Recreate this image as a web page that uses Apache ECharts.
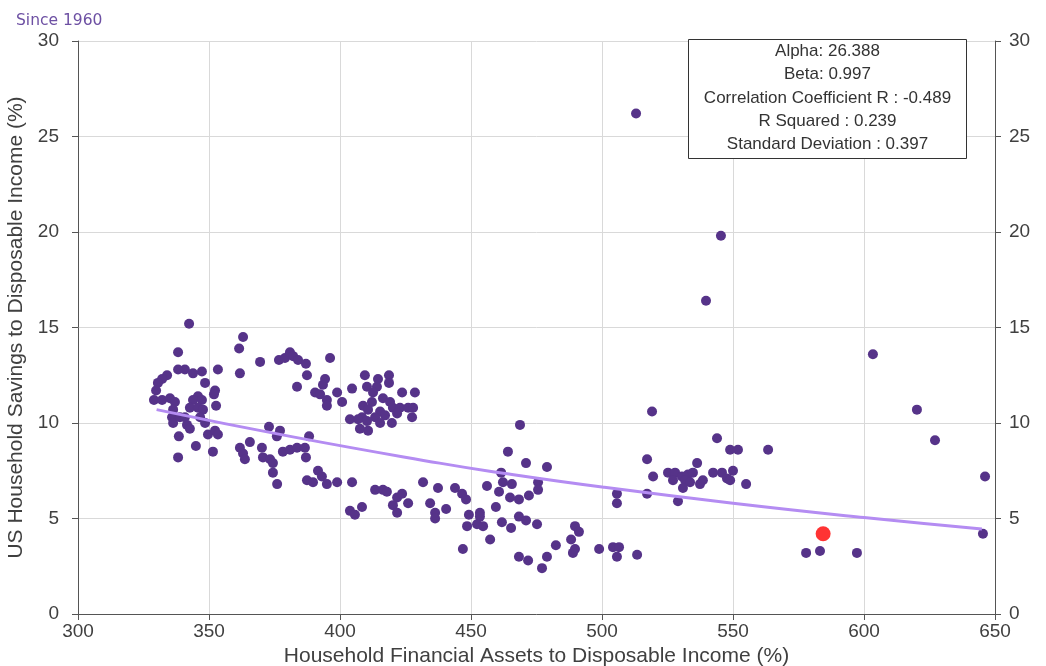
<!DOCTYPE html>
<html>
<head>
<meta charset="utf-8">
<script src="https://cdn.jsdelivr.net/npm/echarts@6/dist/echarts.min.js"></script>
<style>
html,body{margin:0;padding:0;background:#fff;}
#chart{width:1046px;height:666px;}
</style>
</head>
<body>
<div id="chart"></div>
<script>
// Household financial assets to disposable income (%), savings rate (%)
const historyPoints = [
[342.4,15.2],[338.2,13.7],[363.0,14.5],[361.5,13.9],[361.8,12.6],[353.4,12.8],[347.3,12.7],[343.9,12.6],[340.8,12.8],[338.2,12.8],
[334.0,12.5],[332.1,12.3],[330.5,12.1],[329.8,11.7],[329.0,11.2],[332.1,11.2],[335.1,11.3],[337.0,11.1],[336.3,10.7],[335.9,10.3],
[336.3,10.0],[338.9,10.3],[341.6,9.9],[342.7,9.7],[338.5,9.3],[338.2,8.2],[345.0,8.8],[348.5,12.1],[352.3,11.7],[351.9,11.5],
[352.7,10.9],[345.8,11.4],[343.9,11.2],[347.3,11.2],[342.7,10.8],[345.8,10.8],[347.7,10.7],[346.6,10.3],[348.5,10.0],[349.6,9.4],
[352.3,9.6],[353.4,9.4],[351.5,8.5],[340.8,10.3],
[369.5,13.2],[376.7,13.3],[379.0,13.4],[380.9,13.7],[382.1,13.5],[384.0,13.3],[387.0,13.1],[396.2,13.4],[387.4,12.5],[383.6,11.9],
[394.3,12.3],[393.5,12.0],[390.5,11.6],[392.4,11.5],[395.0,11.2],[395.0,10.9],[398.9,11.6],
[372.9,9.8],[377.1,9.6],[375.9,9.3],[388.2,9.3],[361.8,8.7],[363.0,8.4],[363.7,8.1],[365.6,9.0],[370.2,8.7],[370.6,8.2],
[373.3,8.1],[374.4,7.9],[378.2,8.5],[380.9,8.6],[383.6,8.7],[386.6,8.7],[387.0,8.2],[374.4,7.4],[376.0,6.8],[387.4,7.0],
[389.7,6.9],[391.6,7.5],[393.1,7.2],[395.0,6.8],[398.9,6.9],
[400.8,11.1],[404.6,11.8],[409.5,12.5],[414.5,12.3],[418.7,12.5],[418.7,12.1],[410.3,11.9],[414.1,11.9],[412.6,11.6],[423.7,11.6],
[428.6,11.6],[416.4,11.3],[419.1,11.1],[412.2,11.1],[408.8,10.9],[410.7,10.7],[420.2,10.8],[422.9,10.8],[426.0,10.8],[427.9,10.8],
[427.5,10.3],[415.3,10.6],[417.2,10.4],[421.8,10.5],[413.4,10.3],[408.4,10.3],[403.8,10.2],[406.9,10.2],[410.3,10.1],[415.3,10.0],
[419.8,10.0],[407.6,9.7],[410.7,9.6],
[403.8,5.4],[405.7,5.2],[408.4,5.6],[413.4,6.5],[416.4,6.5],[417.9,6.4],[421.8,6.1],[423.7,6.3],[426.0,5.8],[420.2,5.7],
[421.8,5.3],[404.6,6.9],[431.7,6.9],[434.4,5.8],[436.3,5.3],[436.3,5.0],[437.4,6.6],
[443.9,6.6],[446.6,6.3],[448.1,6.0],[440.5,5.5],[449.2,5.2],[453.4,5.3],[453.4,5.1],[448.5,4.6],[452.3,4.7],[454.6,4.6],[446.9,3.4],
[468.7,9.9],[464.1,8.5],[471.0,7.9],[479.0,7.7],[461.5,7.4],[462.2,6.9],[465.6,6.8],[475.6,6.9],[475.6,6.5],[472.1,6.2],
[464.9,6.1],[468.3,6.0],[460.7,6.4],[456.1,6.7],[459.5,5.6],[461.8,4.8],[468.3,5.1],[471.0,4.9],[475.2,4.7],[465.3,4.5],
[457.3,3.9],[468.3,3.0],[471.8,2.8],[477.1,2.4],[479.0,3.0],[482.4,3.6],[488.2,3.9],[489.7,4.6],[491.2,4.3],[488.9,3.2],
[489.7,3.4],[498.9,3.4],[504.2,3.5],[506.5,3.5],[505.7,3.0],[513.4,3.1],[505.7,6.3],[505.7,5.8],
[513.0,26.2],[545.4,19.8],[539.7,16.4],[603.4,13.6],[519.1,10.6],[543.9,9.2],[548.9,8.6],[551.9,8.6],[563.4,8.6],[517.2,8.1],
[536.3,7.9],[519.5,7.2],[525.2,7.4],[527.9,7.4],[530.5,7.2],[532.8,7.3],[534.7,7.4],[527.1,7.0],[531.7,7.0],[533.6,6.9],
[530.9,6.6],[537.4,6.8],[538.5,7.0],[542.4,7.4],[545.8,7.4],[550.0,7.5],[547.7,7.1],[548.9,7.0],[555.0,6.8],[517.2,6.3],
[529.0,5.9],[620.2,10.7],[627.1,9.1],[646.2,7.2],[645.4,4.2],[577.9,3.2],[583.2,3.3],[597.3,3.2]
];
const latestPoint = [[584.4,4.2]];
// fitted trend line
const trendLine = [[330,10.7],[381,9.3],[438,7.9],[461,7.4],[500,6.65],[550,5.8],[600,5.05],[645,4.45]];
const statLines = ['Alpha: 26.388','Beta: 0.997','Correlation Coefficient R : -0.489','R Squared : 0.239','Standard Deviation : 0.397'];

const chart = echarts.init(document.getElementById('chart'));
const fam = 'Liberation Sans, Arial, sans-serif';
const tickFont = {fontFamily:fam, fontSize:19, color:'#404040'};
const nameFont = {fontFamily:fam, fontSize:21, color:'#404040'};
const yAxisBase = {
  type:'value', min:0, max:30, interval:5,
  axisLine:{show:true, lineStyle:{color:'#555', width:1}},
  axisTick:{show:true, length:6, lineStyle:{color:'#555'}}
};
chart.setOption({
  animation:false,
  backgroundColor:'#fff',
  title:{text:'Since 1960', left:11, top:8, textStyle:{fontFamily:'DejaVu Sans, Verdana, sans-serif', fontSize:15.5, fontWeight:'normal', color:'#6d50a3'}},
  grid:{left:78, right:51, top:41, bottom:52, containLabel:false, outerBoundsMode:'none'},
  xAxis:{
    type:'value', min:300, max:650, interval:50,
    name:'Household Financial Assets to Disposable Income (%)',
    nameLocation:'middle', nameGap:29,
    nameTextStyle:nameFont,
    axisLine:{show:true, onZero:false, lineStyle:{color:'#555', width:1}},
    axisTick:{show:true, length:6, lineStyle:{color:'#555'}},
    axisLabel:Object.assign({margin:8}, tickFont),
    splitLine:{show:true, lineStyle:{color:'#d9d9d9', width:1}}
  },
  yAxis:[
    Object.assign({}, yAxisBase, {
      position:'left',
      name:'US Household Savings to Disposable Income (%)',
      nameLocation:'middle', nameGap:50, nameTextStyle:nameFont,
      axisLabel:Object.assign({margin:19}, tickFont),
      splitLine:{show:true, lineStyle:{color:'#d9d9d9', width:1}}
    }),
    Object.assign({}, yAxisBase, {
      position:'right',
      axisLabel:Object.assign({margin:14}, tickFont),
      splitLine:{show:false}
    })
  ],
  graphic:[{
    type:'group', left:688, top:39, z:100,
    children:[
      {type:'rect', z:100, shape:{x:0, y:0, width:278, height:119}, style:{fill:'#fff', stroke:'#333', lineWidth:1}}
    ].concat(statLines.map((t,i)=>({
      type:'text', z:101, x:139, y:12 + i*23.2,
      style:{text:t, textAlign:'center', textVerticalAlign:'middle', fontFamily:fam, fontSize:17, fill:'#333'}
    })))
  }],
  series:[
    {type:'scatter', data:historyPoints, symbolSize:10, itemStyle:{color:'#563389', opacity:1}, z:2},
    {type:'line', data:trendLine, smooth:true, showSymbol:false, lineStyle:{color:'#b48cf2', width:3}, z:3},
    {type:'scatter', data:latestPoint, symbolSize:15, itemStyle:{color:'#ff0000'}, z:4}
  ]
});
</script>
</body>
</html>
